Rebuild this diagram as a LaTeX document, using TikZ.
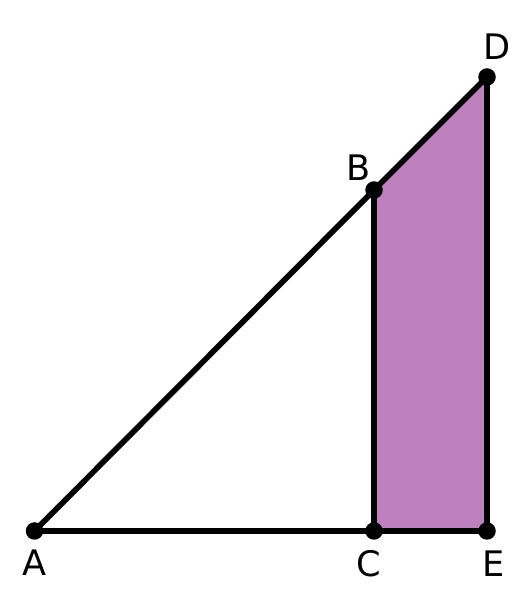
\documentclass[tikz,border=0pt]{standalone}
\usepackage{fontspec}
\setmainfont{DejaVu Sans}
\usepackage{tikz}

\definecolor{shade}{RGB}{191,128,191}

\begin{document}
\begin{tikzpicture}[line width=3.2pt,
  pt/.style={circle,fill=black,inner sep=0pt,minimum size=0.35cm},
  lbl/.style={font=\fontsize{20}{24}\selectfont,inner sep=0pt}]

\useasboundingbox (0,0) rectangle (10.52,12.28);

\coordinate (A) at (0.69,1.66);
\coordinate (C) at (7.48,1.66);
\coordinate (E) at (9.74,1.66);
\coordinate (B) at (7.48,8.48);
\coordinate (D) at (9.74,10.74);

\filldraw[color=shade] (C) -- (B) -- (D) -- (E) -- (C);

\draw (A) -- (C) -- (E);

\draw (A) -- (B) -- (D);

\draw (C) -- (B);

\draw (E) -- (D);

\node[pt] (a) at (A) {};
\node[pt] (b) at (B) {};
\node[pt] (c) at (C) {};
\node[pt] (d) at (D) {};
\node[pt] (e) at (E) {};

\node[lbl] (la) at (0.70,1.02) {A};
\node[lbl] (lb) at (7.18,8.92) {B};
\node[lbl] (lc) at (7.38,1.00) {C};
\node[lbl] (ld) at (9.94,11.34) {D};
\node[lbl] (le) at (9.88,1.00) {E};

\end{tikzpicture}
\end{document}
